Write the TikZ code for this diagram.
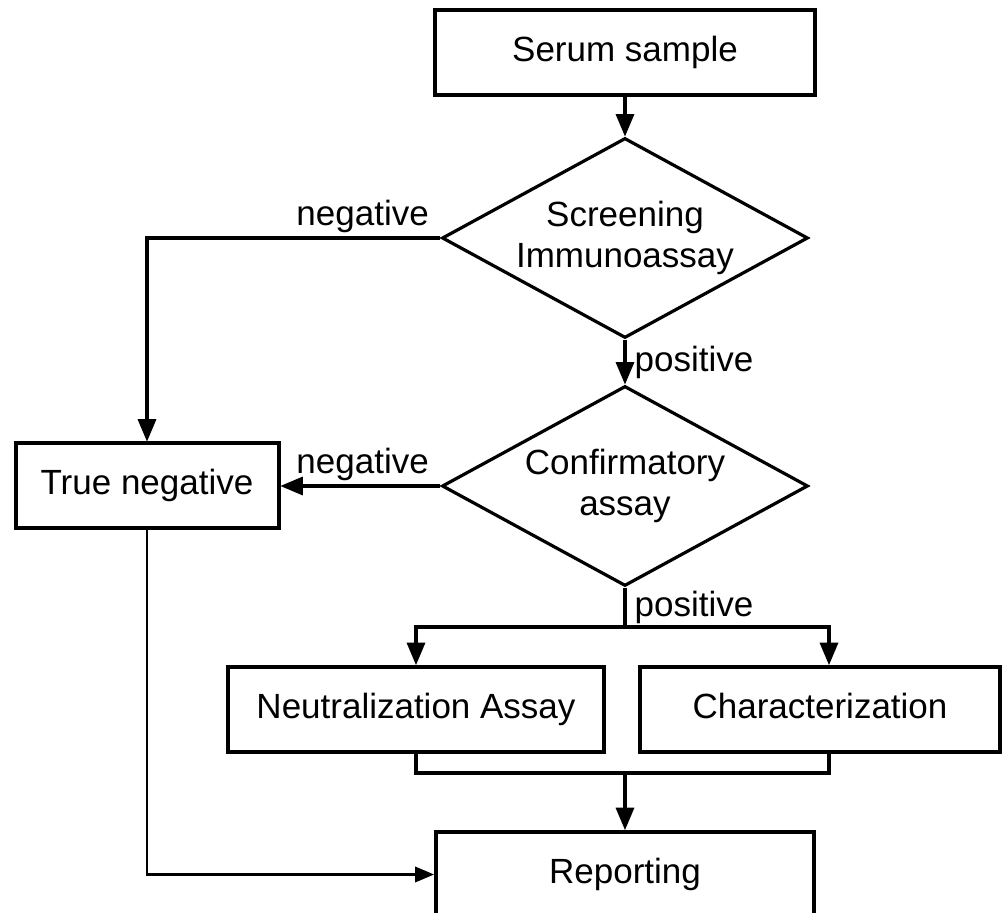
\documentclass[tikz,border=0pt]{standalone}
\usepackage{fontspec}
\setmainfont{Liberation Sans}
\usetikzlibrary{arrows,shapes.geometric}
\usetikzlibrary{calc}

\tikzset{
	box/.style={draw, line width=2pt, rectangle, minimum width=#1, minimum height=42.5pt, inner sep=0pt, text height=1.7ex, text depth=0ex},
	decision/.style={draw, line width=1.6pt, diamond, aspect=1.83, inner sep=0pt, minimum width=183pt, minimum height=100pt, align=center},
	lbl/.style={inner sep=2pt},
}

\begin{document}
\begin{tikzpicture}[x=0.5pt, y=-0.5pt, font=\fontsize{17.5}{20.5}\selectfont, line width=1.6pt, >=triangle 45]
		\useasboundingbox (0,0) rectangle (1003,913);
		%boxes and decisions
		\node[box=190pt] (serum) at (625,52.5) {Serum sample};
		\node[decision] (screen) at (625,238) {Screening\\Immunoassay};
		\node[decision] (confirm) at (625,486) {Confirmatory\\assay};
		\node[box=131.5pt] (tneg) at (147,486) {True negative};
		\node[box=188pt] (neut) at (416,709.5) {Neutralization Assay};
		\node[box=180pt] (char) at (820,709.5) {Characterization};
		\node[box=189pt] (report) at (625,874.5) {Reporting};
		\coordinate (fork) at (625,627);
		\coordinate (join) at (625,773);
		%connectors
		\path[->]
		(serum) edge (screen)
		(screen) edge node[lbl, right, xshift=2pt]{positive} (confirm)
		(confirm.west) edge node[lbl, anchor=south east, pos=0, xshift=-3pt]{negative} (tneg.east);
		\draw[->] (screen.west) node[lbl, anchor=south east, xshift=-3pt]{negative} -| (tneg.north);
		\draw (confirm.south) -- node[lbl, right, xshift=2pt]{positive} (fork);
		\draw[->] (fork) -| (neut.north);
		\draw[->] (fork) -| ([xshift=4.5pt]char.north);
		\draw (neut.south) |- (join) -| ([xshift=4.5pt]char.south);
		\draw[->] (join) -- (report.north);
		\draw[->, line width=1.2pt] (tneg.south) |- (report.west);
\end{tikzpicture}
\end{document}
